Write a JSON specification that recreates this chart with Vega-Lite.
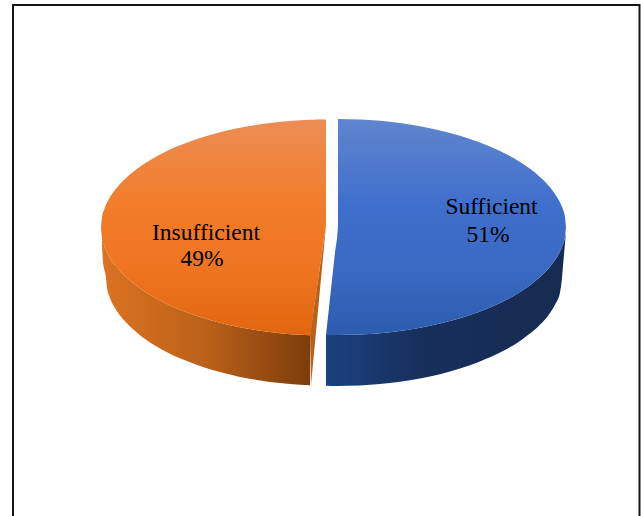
{"$schema":"https://vega.github.io/schema/vega-lite/v6.json","width":641,"height":516,"padding":0,"autosize":"none","background":"white","view":{"stroke":null},
"encoding":{"x":{"field":"x","type":"quantitative","axis":null,"scale":{"domain":[0,641],"nice":false,"zero":false}},"y":{"field":"top","type":"quantitative","axis":null,"scale":{"domain":[516,0],"nice":false,"zero":false}}},
"layer":[
{"data":{"values":[{"x":13,"top":516,"k":1},{"x":13,"top":5,"k":2},{"x":639.5,"top":5,"k":3},{"x":639.5,"top":516,"k":4}]},"mark":{"type":"line","color":"#161616","strokeWidth":2},"encoding":{"order":{"field":"k","type":"quantitative"}}},
{"data":{"values":[{"x":102,"top":237.7,"bottom":245},{"x":103,"top":242,"bottom":262},{"x":104,"top":245,"bottom":268},{"x":106,"top":250,"bottom":277.5},{"x":107,"top":252,"bottom":287.8},{"x":110,"top":258,"bottom":297.9},{"x":115,"top":265,"bottom":308},{"x":125,"top":276.1,"bottom":321.3},{"x":140,"top":288.2,"bottom":335.2},{"x":160,"top":300.4,"bottom":348.4},{"x":180,"top":309.7,"bottom":358.3},{"x":200,"top":317,"bottom":366},{"x":220,"top":322.8,"bottom":372.1},{"x":240,"top":327.3,"bottom":376.9},{"x":260,"top":330.7,"bottom":380.5},{"x":280,"top":333.2,"bottom":383.1},{"x":300,"top":334.8,"bottom":384.7},{"x":310,"top":335.2,"bottom":385.2}]},"mark":{"type":"area","interpolate":"monotone","color":{"gradient":"linear","x1":0,"y1":0,"x2":1,"y2":0,"stops":[{"offset":0,"color":"#DC7320"},{"offset":0.5,"color":"#BA6119"},{"offset":1,"color":"#7C3D0C"}]}},"encoding":{"y2":{"field":"bottom"}}},
{"data":{"values":[{"x":310,"top":335,"bottom":335},{"x":311,"top":328,"bottom":385.2},{"x":326,"top":225,"bottom":225}]},"mark":{"type":"area","color":"#B9611A"},"encoding":{"y2":{"field":"bottom"}}},
{"data":{"values":[{"x":101,"top":227.5,"bottom":227.5},{"x":102,"top":217.3,"bottom":237.7},{"x":104,"top":210,"bottom":245},{"x":108,"top":200.8,"bottom":254.2},{"x":115,"top":190,"bottom":265},{"x":125,"top":178.9,"bottom":276.1},{"x":140,"top":166.8,"bottom":288.2},{"x":160,"top":154.6,"bottom":300.4},{"x":180,"top":145.3,"bottom":309.7},{"x":200,"top":138,"bottom":317},{"x":220,"top":132.2,"bottom":322.8},{"x":240,"top":127.7,"bottom":327.3},{"x":260,"top":124.3,"bottom":330.7},{"x":280,"top":121.8,"bottom":333.2},{"x":300,"top":120.2,"bottom":334.8},{"x":310,"top":119.8,"bottom":335.2},{"x":314,"top":119.7,"bottom":307.7},{"x":318,"top":119.6,"bottom":280.2},{"x":322,"top":119.5,"bottom":252.7},{"x":326,"top":119.5,"bottom":225}]},"mark":{"type":"area","interpolate":"monotone","color":{"gradient":"linear","x1":0,"y1":0,"x2":0,"y2":1,"stops":[{"offset":0,"color":"#EC8D55"},{"offset":0.4,"color":"#F27C28"},{"offset":0.7,"color":"#EE7420"},{"offset":1,"color":"#E2660F"}]}},"encoding":{"y2":{"field":"bottom"}}},
{"data":{"values":[{"x":326,"top":334.8,"bottom":385.8},{"x":338,"top":335,"bottom":386},{"x":360,"top":334.5,"bottom":385.5},{"x":380,"top":333.2,"bottom":384.1},{"x":400,"top":330.9,"bottom":381.8},{"x":420,"top":327.8,"bottom":378.5},{"x":440,"top":323.6,"bottom":374.2},{"x":460,"top":318.2,"bottom":368.6},{"x":480,"top":311.5,"bottom":361.5},{"x":500,"top":303,"bottom":352.6},{"x":520,"top":292.1,"bottom":341},{"x":530,"top":285.2,"bottom":333.6},{"x":540,"top":277.1,"bottom":324.7},{"x":550,"top":266.7,"bottom":312.9},{"x":555,"top":260.1,"bottom":304.7},{"x":560,"top":251.6,"bottom":292.5},{"x":562,"top":247,"bottom":278},{"x":563,"top":244.5,"bottom":266},{"x":565,"top":237.1,"bottom":243},{"x":565.5,"top":234,"bottom":237}]},"mark":{"type":"area","interpolate":"monotone","color":{"gradient":"linear","x1":0,"y1":0,"x2":1,"y2":0,"stops":[{"offset":0,"color":"#1C4180"},{"offset":0.4,"color":"#172F5C"},{"offset":1,"color":"#162B50"}]}},"encoding":{"y2":{"field":"bottom"}}},
{"data":{"values":[{"x":326,"top":335,"bottom":335},{"x":329,"top":307.5,"bottom":335},{"x":332,"top":280,"bottom":335},{"x":335,"top":252.5,"bottom":335},{"x":338,"top":225,"bottom":335},{"x":338,"top":119,"bottom":335},{"x":360,"top":119.5,"bottom":334.5},{"x":380,"top":120.8,"bottom":333.2},{"x":400,"top":123.1,"bottom":330.9},{"x":420,"top":126.2,"bottom":327.8},{"x":440,"top":130.4,"bottom":323.6},{"x":460,"top":135.8,"bottom":318.2},{"x":480,"top":142.5,"bottom":311.5},{"x":500,"top":151,"bottom":303},{"x":520,"top":161.9,"bottom":292.1},{"x":530,"top":168.8,"bottom":285.2},{"x":540,"top":176.9,"bottom":277.1},{"x":550,"top":187.3,"bottom":266.7},{"x":555,"top":193.9,"bottom":260.1},{"x":560,"top":202.4,"bottom":251.6},{"x":563,"top":209.5,"bottom":244.5},{"x":565,"top":216.9,"bottom":237.1},{"x":566,"top":227,"bottom":227}]},"mark":{"type":"area","interpolate":"monotone","color":{"gradient":"linear","x1":0,"y1":0,"x2":0,"y2":1,"stops":[{"offset":0,"color":"#5F85CE"},{"offset":0.4,"color":"#3F6FCC"},{"offset":0.7,"color":"#3A69C2"},{"offset":1,"color":"#2C5CAE"}]}},"encoding":{"y2":{"field":"bottom"}}},
{"data":{"values":[{"x":491.5,"top":207,"label":"Sufficient"},{"x":488,"top":235,"label":"51%"},{"x":206,"top":233,"label":"Insufficient"},{"x":202,"top":259,"label":"49%"}]},"mark":{"type":"text","font":"Liberation Serif","fontSize":23.5,"color":"#000000","align":"center","baseline":"middle"},"encoding":{"text":{"field":"label"}}}
]}
